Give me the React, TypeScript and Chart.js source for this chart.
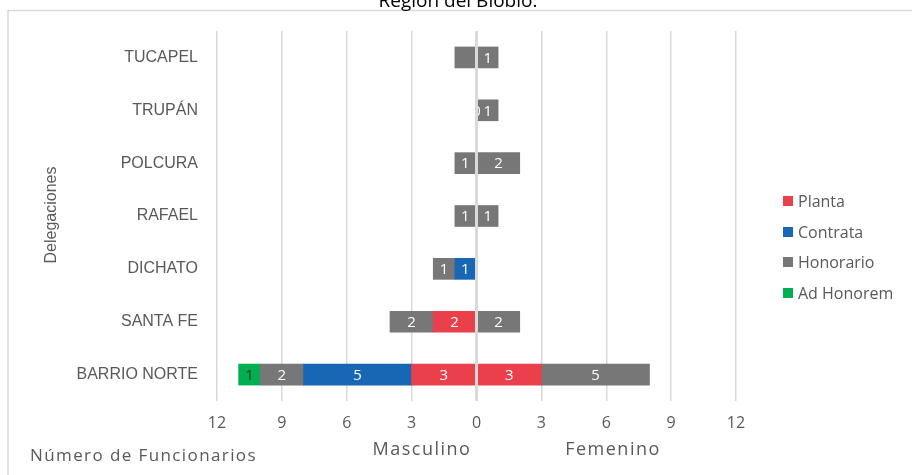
import React, { useEffect, useRef } from "react";
import { Chart, registerables } from "chart.js";

Chart.register(...registerables);

const categories = ["TUCAPEL", "TRUPÁN", "POLCURA", "RAFAEL", "DICHATO", "SANTA FE", "BARRIO NORTE"];
const seriesNames = ["Planta", "Contrata", "Honorario", "Ad Honorem"];
const seriesColors = ["#E9404B", "#1767B4", "#777777", "#00B050"];
const labelColors = ["#FFFFFF", "#FFFFFF", "#FFFFFF", "#333333"];

// Masculino (shown to the left of zero)
const plantaM = [0, 0, 0, 0, 0, 2, 3];
const contrataM = [0, 0, 0, 0, 1, 0, 5];
const honorarioM = [1, 0, 1, 1, 1, 2, 2];
const adHonoremM = [0, 0, 0, 0, 0, 0, 1];
// Femenino (shown to the right of zero)
const plantaF = [0, 0, 0, 0, 0, 0, 3];
const contrataF = [0, 0, 0, 0, 0, 0, 0];
const honorarioF = [1, 1, 2, 1, 0, 2, 5];
const adHonoremF = [0, 0, 0, 0, 0, 0, 0];

const maleSeries = [plantaM, contrataM, honorarioM, adHonoremM];
const femaleSeries = [plantaF, contrataF, honorarioF, adHonoremF];

// labels shown even though value is zero: [series index, gender, category]
const zeroLabels: [number, string, string][] = [[2, "M", "TRUPÁN"]];
// labels not shown in the original
const hiddenLabels: [number, string, string][] = [[2, "M", "TUCAPEL"]];

const xTicks = [-12, -9, -6, -3, 0, 3, 6, 9, 12];
const axisMin = -12;
const axisMax = 12;

const GRID = "#D9D9D9";
const TEXT = "#595959";

export default function App() {
  const ref = useRef<HTMLCanvasElement>(null);

  useEffect(() => {
    if (!ref.current) return;
    const datasets: any[] = [];
    seriesNames.forEach((name, si) => {
      datasets.push({
        label: name,
        data: maleSeries[si].map((v) => (v === 0 ? null : -v)),
        backgroundColor: seriesColors[si],
        barThickness: 21,
        stack: "s",
        meta: { series: si, gender: "M", values: maleSeries[si] },
      });
      datasets.push({
        label: name,
        data: femaleSeries[si].map((v) => (v === 0 ? null : v)),
        backgroundColor: seriesColors[si],
        barThickness: 21,
        stack: "s",
        meta: { series: si, gender: "F", values: femaleSeries[si] },
      });
    });

    const overlay = {
      id: "overlay",
      afterDatasetsDraw(chart: any) {
        const ctx = chart.ctx;
        const xs = chart.scales.x;
        const ys = chart.scales.y;
        const area = chart.chartArea;
        const zx = xs.getPixelForValue(0);
        // value labels
        ctx.save();
        ctx.font = "15px 'Open Sans'";
        ctx.textAlign = "center";
        ctx.textBaseline = "middle";
        chart.data.datasets.forEach((ds: any, di: number) => {
          const meta = chart.getDatasetMeta(di);
          const { series, gender, values } = ds.meta;
          values.forEach((v: number, i: number) => {
            const cat = categories[i];
            const isHidden = hiddenLabels.some((h) => h[0] === series && h[1] === gender && h[2] === cat);
            const isZeroShown = zeroLabels.some((h) => h[0] === series && h[1] === gender && h[2] === cat);
            if (isHidden) return;
            if (v === 0 && !isZeroShown) return;
            const y = ys.getPixelForValue(i);
            let cx = zx;
            const bar = meta.data[i];
            if (v !== 0 && bar) cx = (bar.x + bar.base) / 2;
            ctx.fillStyle = labelColors[series];
            ctx.fillText(String(v), cx, y + 1);
          });
        });
        ctx.restore();
        // zero line
        ctx.save();
        ctx.strokeStyle = GRID;
        ctx.lineWidth = 3;
        ctx.beginPath();
        ctx.moveTo(zx, area.top);
        ctx.lineTo(zx, area.bottom);
        ctx.stroke();
        ctx.restore();
      },
      afterDraw(chart: any) {
        const ctx = chart.ctx;
        ctx.save();
        // frame
        ctx.strokeStyle = GRID;
        ctx.lineWidth = 1.5;
        ctx.beginPath();
        ctx.moveTo(8, 475);
        ctx.lineTo(8, 10.5);
        ctx.lineTo(912, 10.5);
        ctx.stroke();
        // title
        ctx.fillStyle = "#000000";
        ctx.font = "19px 'Open Sans'";
        ctx.textAlign = "center";
        ctx.textBaseline = "alphabetic";
        ctx.fillText("Región del Biobío.", 458, 7);
        // legend
        ctx.font = "16px 'Open Sans'";
        ctx.textAlign = "left";
        ctx.textBaseline = "middle";
        const ly = [201, 232, 262, 293];
        seriesNames.forEach((n, i) => {
          ctx.fillStyle = seriesColors[i];
          ctx.fillRect(783, ly[i] - 5, 10, 10);
          ctx.fillStyle = TEXT;
          ctx.fillText(n, 798, ly[i] + 1);
        });
        // axis titles
        (ctx as any).letterSpacing = "1.4px";
        ctx.font = "17px 'Open Sans'";
        ctx.fillText("Número de Funcionarios", 30, 456);
        (ctx as any).letterSpacing = "1.5px";
        ctx.font = "18px 'Open Sans'";
        ctx.textAlign = "center";
        ctx.fillText("Masculino", 422, 450);
        ctx.fillText("Femenino", 613, 450);
        (ctx as any).letterSpacing = "0px";
        ctx.translate(52, 215);
        ctx.rotate(-Math.PI / 2);
        ctx.font = "16px 'Liberation Sans'";
        ctx.fillText("Delegaciones", 0, 0);
        ctx.restore();
      },
    };

    const chart = new Chart(ref.current, {
      type: "bar",
      data: { labels: categories, datasets },
      options: {
        indexAxis: "y",
        animation: false,
        responsive: false,
        layout: { padding: { top: 31, right: 176, left: 0, bottom: 0 } },
        plugins: { legend: { display: false }, tooltip: { enabled: false }, title: { display: false } },
        scales: {
          y: {
            type: "category",
            stacked: true,
            grid: { display: false },
            border: { display: false },
            ticks: { color: TEXT, font: { family: "'Liberation Sans'", size: 16 }, padding: 11 },
            afterFit: (s: any) => {
              s.width = 217;
            },
          },
          x: {
            type: "linear",
            stacked: true,
            min: axisMin,
            max: axisMax,
            afterBuildTicks: (s: any) => {
              s.ticks = xTicks.map((v) => ({ value: v }));
            },
            grid: { color: GRID, lineWidth: 1.5, drawTicks: false },
            border: { display: false },
            ticks: {
              color: TEXT,
              font: { family: "'Open Sans'", size: 16 },
              padding: 13,
              callback: (v: any) => String(Math.abs(Number(v))),
            },
            afterFit: (s: any) => {
              s.height = 74;
            },
          },
        },
      } as any,
      plugins: [overlay],
    });
    return () => chart.destroy();
  }, []);

  return (
    <div style={{ position: "absolute", left: 0, top: 0, width: 912, height: 475, background: "#fff" }}>
      <canvas ref={ref} width={912} height={475} />
    </div>
  );
}
